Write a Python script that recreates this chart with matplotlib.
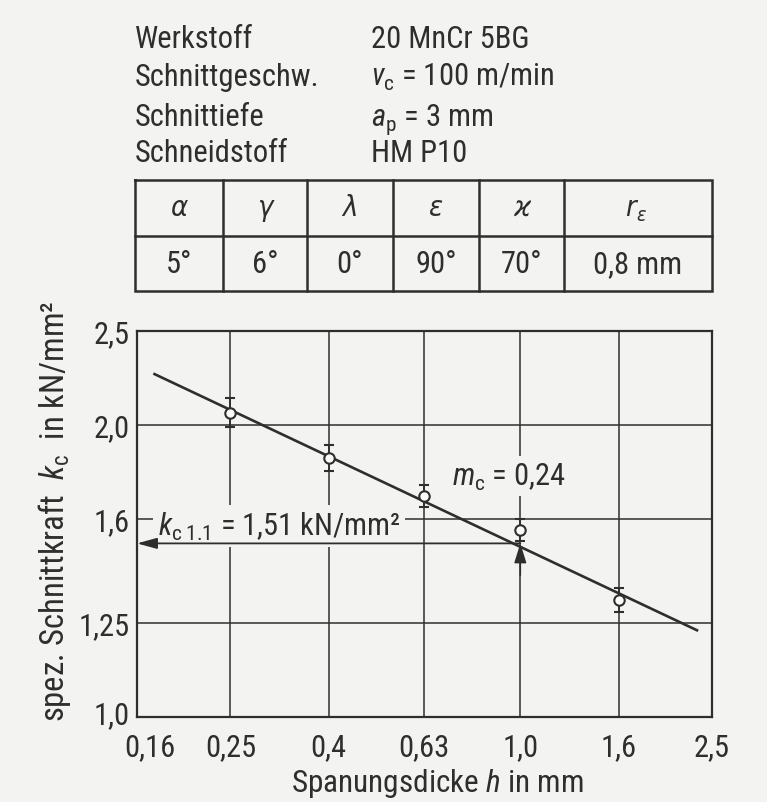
import matplotlib
matplotlib.use('Agg')
import matplotlib.pyplot as plt
import matplotlib.transforms as mtransforms
from matplotlib import font_manager as fm

names = {f.name for f in fm.fontManager.ttflist}
REG = 'Liberation Sans' if 'Liberation Sans' in names else 'DejaVu Sans'


def find_condensed():
    cands = []
    for f in fm.fontManager.ttflist:
        nm, fn = f.name, f.fname
        low = fn.lower()
        cond = ('Narrow' in nm or 'Condensed' in nm or 'narrow' in low or
                'condensed' in low or 'condensed' in str(f.stretch))
        if not cond or f.style != 'normal':
            continue
        if any(k in low for k in ('bold', 'light', 'thin', 'black', 'medium',
                                  'semibold', 'extrabold', 'italic', 'mono')):
            continue
        rank = 9
        for i, key in enumerate(['Liberation', 'Roboto', 'Open Sans', 'Noto Sans',
                                 'DejaVu Sans']):
            if key in nm:
                rank = i
                break
        cands.append((rank, f))
    cands.sort(key=lambda c: c[0])
    return cands[0][1] if cands else None


COND = find_condensed()
if COND is not None:
    FAM = COND.name
    STRETCH = COND.stretch
else:
    FAM = REG
    STRETCH = 'normal'

plt.rcParams['font.family'] = [FAM, REG, 'DejaVu Sans']
plt.rcParams['font.stretch'] = STRETCH
plt.rcParams['mathtext.fontset'] = 'custom'
plt.rcParams['mathtext.rm'] = FAM
plt.rcParams['mathtext.it'] = FAM + ':italic'
plt.rcParams['mathtext.bf'] = FAM + ':bold'
plt.rcParams['mathtext.fallback'] = 'stixsans'

BG = '#f3f3f1'
INK = '#2e2e2e'

# ---------------- data ----------------
h = [0.25, 0.4, 0.63, 1.0, 1.6]
kc = [2.06, 1.85, 1.69, 1.56, 1.32]
kc_err = [0.07, 0.058, 0.045, 0.041, 0.038]
fit_h = [0.173, 2.34]
fit_kc = [2.26, 1.227]
kc11 = 1.51
h_ref = 1.0
kc_arrow_start = 1.40
x_ticks = [0.16, 0.25, 0.4, 0.63, 1.0, 1.6, 2.5]
x_labels = ['0,16', '0,25', '0,4', '0,63', '1,0', '1,6', '2,5']
y_ticks = [1.0, 1.25, 1.6, 2.0, 2.5]
y_labels = ['1,0', '1,25', '1,6', '2,0', '2,5']
params = ['Werkstoff', 'Schnittgeschw.', 'Schnittiefe', 'Schneidstoff']
param_values = ['20 MnCr 5BG', r'$v_\mathrm{c}$ = 100 m/min',
                r'$a_\mathrm{p}$ = 3 mm', 'HM P10']
angle_names = ['α', 'γ', 'λ', 'ε', 'ϰ', 'r']
angle_subs = ['', '', '', '', '', 'ε']
angle_values = ['5°', '6°', '0°', '90°', '70°', '0,8 mm']

W, H = 767, 803
fig = plt.figure(figsize=(W / 100, H / 100), dpi=100, facecolor=BG)

# ---------------- overlay (pixel coords) for header + table ----------------
ov = fig.add_axes([0, 0, 1, 1], facecolor='none', zorder=0)
ov.set_xlim(0, W)
ov.set_ylim(H, 0)
ov.axis('off')

TXT = 22
row_base = [48, 86, 126, 162]
for name, val, yb in zip(params, param_values, row_base):
    ov.text(135, yb, name, fontsize=TXT, color=INK, ha='left', va='baseline')
    ov.text(371, yb, val, fontsize=TXT, color=INK, ha='left', va='baseline')

col_x = [135, 223, 307, 393, 479, 564, 712]
t_top, t_mid, t_bot = 181, 237, 292
tlw = 1.8
ov.plot([col_x[0], col_x[-1], col_x[-1], col_x[0], col_x[0]],
        [t_top, t_top, t_bot, t_bot, t_top], color=INK, lw=tlw,
        solid_joinstyle='miter')
ov.plot([col_x[0], col_x[-1]], [t_mid, t_mid], color=INK, lw=tlw)
for cx in col_x[1:-1]:
    ov.plot([cx, cx], [t_top, t_bot], color=INK, lw=tlw)
GREEK = ['DejaVu Sans']
for i, (nm, sb, vv) in enumerate(zip(angle_names, angle_subs, angle_values)):
    xc = (col_x[i] + col_x[i + 1]) / 2
    yc = (t_top + t_mid) / 2
    if sb:
        ov.text(xc - 2, yc + 7, nm, fontsize=21, color=INK, ha='right',
                va='baseline', style='italic', family=GREEK)
        ov.text(xc - 2, yc + 12, sb, fontsize=14, color=INK, ha='left',
                va='baseline', style='italic', family=GREEK)
    else:
        ov.text(xc, yc + 7, nm, fontsize=21, color=INK, ha='center',
                va='baseline', style='italic', family=GREEK)
    ov.text(xc, (t_mid + t_bot) / 2, vv, fontsize=22, color=INK,
            ha='center', va='center')

# ---------------- chart ----------------
L, R, T, B = 137, 712, 332, 718
ax = fig.add_axes([L / W, 1 - B / H, (R - L) / W, (B - T) / H], facecolor='none',
                  zorder=2)
ax.set_xscale('log')
ax.set_yscale('log')
ax.set_xlim(x_ticks[0], x_ticks[-1])
ax.set_ylim(y_ticks[0], y_ticks[-1])
ax.minorticks_off()
ax.set_xticks(x_ticks)
ax.set_xticklabels(x_labels)
ax.set_yticks(y_ticks)
ax.set_yticklabels(y_labels)
ax.tick_params(axis='both', length=0, colors=INK, labelsize=22)
ax.tick_params(axis='x', pad=11)
ax.tick_params(axis='y', pad=5)
for s in ax.spines.values():
    s.set_linewidth(1.6)
    s.set_color(INK)

# shift crowded corner labels
xl0 = ax.get_xticklabels()[0]
xl0.set_transform(xl0.get_transform() +
                  mtransforms.ScaledTranslation(0.13, 0, fig.dpi_scale_trans))
yl0 = ax.get_yticklabels()[0]
yl0.set_transform(yl0.get_transform() +
                  mtransforms.ScaledTranslation(0, 0.05, fig.dpi_scale_trans))

for xv in x_ticks[1:-1]:
    ax.axvline(xv, color=INK, lw=1.1, zorder=1)
for yv in y_ticks[1:-1]:
    ax.axhline(yv, color=INK, lw=1.1, zorder=1)

# fit line
ax.plot(fit_h, fit_kc, color=INK, lw=1.9, zorder=3, solid_capstyle='butt')

# kc1.1 reference line with arrows
ax.annotate('', xy=(x_ticks[0], kc11), xytext=(h_ref, kc11),
            arrowprops=dict(arrowstyle='-|>,head_length=0.8,head_width=0.22',
                            color=INK, lw=1.3, mutation_scale=15,
                            shrinkA=0, shrinkB=0), zorder=3)
ax.annotate('', xy=(h_ref, kc11), xytext=(h_ref, kc_arrow_start),
            arrowprops=dict(arrowstyle='-|>,head_length=0.8,head_width=0.25',
                            color=INK, lw=1.1, mutation_scale=15,
                            shrinkA=0, shrinkB=0), zorder=3)

# measured points
ax.errorbar(h, kc, yerr=kc_err, fmt='o', ms=7.5, mfc='#fbfbfa', mec=INK,
            mew=1.5, ecolor=INK, elinewidth=1.3, capsize=3.8, capthick=1.3,
            zorder=4)

box = dict(boxstyle='square,pad=0.15', facecolor=BG, edgecolor='none')
ax.text(0.0365, 0.495, r'$k_{\mathrm{c\;1.1}}$ = 1,51 kN/mm²', transform=ax.transAxes,
        fontsize=22, color=INK, ha='left', va='center', bbox=box, zorder=2.5)
ax.text(0.548, 0.624, r'$m_\mathrm{c}$ = 0,24', transform=ax.transAxes,
        fontsize=22, color=INK, ha='left', va='center', bbox=box, zorder=2.5)

fig.text(55 / W, 1 - 511 / H, r'spez. Schnittkraft  $k_\mathrm{c}$  in kN/mm²',
         rotation=90, fontsize=23.5, color=INK, ha='center', va='center')
fig.text(437 / W, 1 - 792 / H, r'Spanungsdicke $h$ in mm', fontsize=22.5,
         color=INK, ha='center', va='baseline')

fig.savefig('out.png', dpi=100, facecolor=BG)
